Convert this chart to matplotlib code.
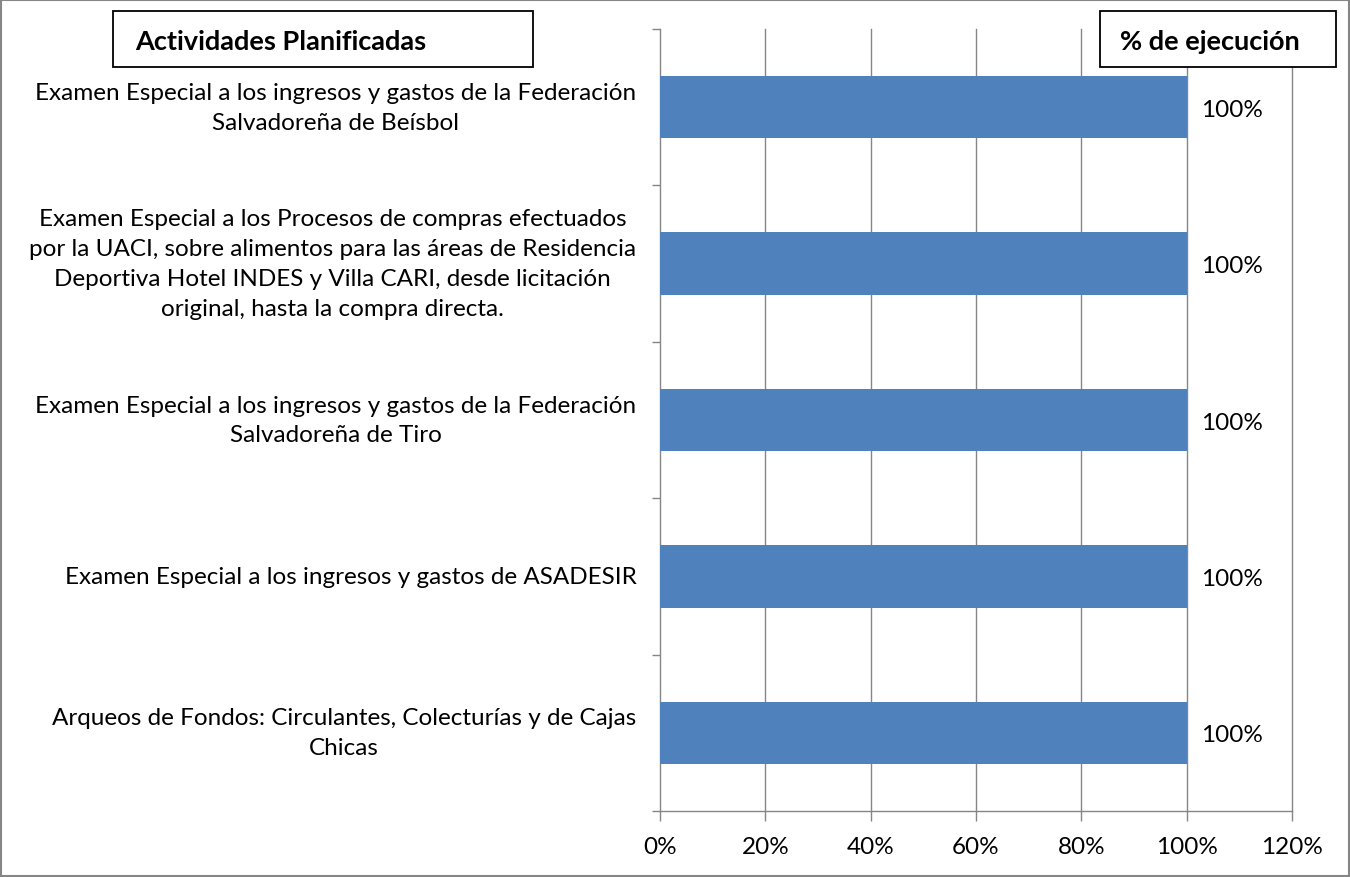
import matplotlib
matplotlib.use("Agg")
import matplotlib.pyplot as plt
from matplotlib.patches import Rectangle
from matplotlib.ticker import FuncFormatter, FixedLocator

plt.rcParams['font.family'] = ['Lato', 'DejaVu Sans']

categories = [
    "Examen Especial a los ingresos y gastos de la Federación\nSalvadoreña de Beísbol",
    "Examen Especial a los Procesos de compras efectuados\npor la UACI, sobre alimentos para las áreas de Residencia\nDeportiva Hotel INDES y Villa CARI, desde licitación\noriginal, hasta la compra directa.",
    "Examen Especial a los ingresos y gastos de la Federación\nSalvadoreña de Tiro",
    "Examen Especial a los ingresos y gastos de ASADESIR",
    "Arqueos de Fondos: Circulantes, Colecturías y de Cajas\nChicas",
]
values = [1.0, 1.0, 1.0, 1.0, 1.0]
value_labels = ["100%", "100%", "100%", "100%", "100%"]
x_ticks = [0, 0.2, 0.4, 0.6, 0.8, 1.0, 1.2]

W, H = 1350, 878
GRAY = '#868686'
fig = plt.figure(figsize=(W / 100, H / 100), dpi=100)
ax = fig.add_axes([660 / W, 1 - 812 / H, (1292 - 660) / W, (812 - 30) / H])

pos = list(range(len(categories)))
ax.barh(pos, values, height=0.4, color='#4F81BD', zorder=3)
ax.set_ylim(len(categories) - 0.5, -0.5)
ax.set_xlim(0, 1.2)

ax.xaxis.set_major_locator(FixedLocator(x_ticks))
ax.xaxis.set_major_formatter(FuncFormatter(lambda v, p: f"{v*100:.0f}%"))
for xv in x_ticks[1:]:
    ax.axvline(xv, color=GRAY, linewidth=1.0, zorder=0, clip_on=False)

# y: major ticks at boundaries, labels at centers via minor ticks
ax.yaxis.set_major_locator(FixedLocator([i - 0.5 for i in range(len(categories) + 1)]))
ax.yaxis.set_major_formatter(FuncFormatter(lambda v, p: ""))
ax.yaxis.set_minor_locator(FixedLocator(pos))
ax.set_yticklabels(categories, minor=True, multialignment='center', linespacing=1.52,
                   va='center')
ax.tick_params(axis='y', which='minor', length=0, pad=17, labelsize=17.5)
ax.tick_params(axis='y', which='major', length=6, color=GRAY, width=1)
ax.tick_params(axis='x', which='major', length=7, color=GRAY, width=1, labelsize=17.5, pad=11)

for s in ['top', 'right']:
    ax.spines[s].set_visible(False)
for s in ['left', 'bottom']:
    ax.spines[s].set_color(GRAY)
    ax.spines[s].set_linewidth(1)

for p, v, lab in zip(pos, values, value_labels):
    ax.annotate(lab, (v, p), xytext=(10, -1.5), textcoords='offset points',
                ha='left', va='center', fontsize=17.5, zorder=4)

# header boxes
def fx(x):
    return x / W

def fy(y):
    return 1 - y / H

fig.patches.append(Rectangle((fx(113), fy(68)), fx(533) - fx(113), fy(12) - fy(68),
                             transform=fig.transFigure, fill=True, facecolor='white',
                             edgecolor='black', linewidth=1.3, zorder=5))
fig.text(fx(135), fy(42), "Actividades Planificadas", fontsize=19.5, fontweight='bold',
         ha='left', va='center', zorder=6)
fig.patches.append(Rectangle((fx(1100), fy(68)), fx(1336) - fx(1100), fy(12) - fy(68),
                             transform=fig.transFigure, fill=True, facecolor='white',
                             edgecolor='black', linewidth=1.3, zorder=5))
fig.text(fx(1210), fy(42), "% de ejecución", fontsize=19.5, fontweight='bold',
         ha='center', va='center', zorder=6)

# outer border
fig.patches.append(Rectangle((0.0008, 0.001), 0.9984, 0.998, transform=fig.transFigure,
                             fill=False, edgecolor=GRAY, linewidth=1.5))

fig.savefig("out.png", dpi=100)
